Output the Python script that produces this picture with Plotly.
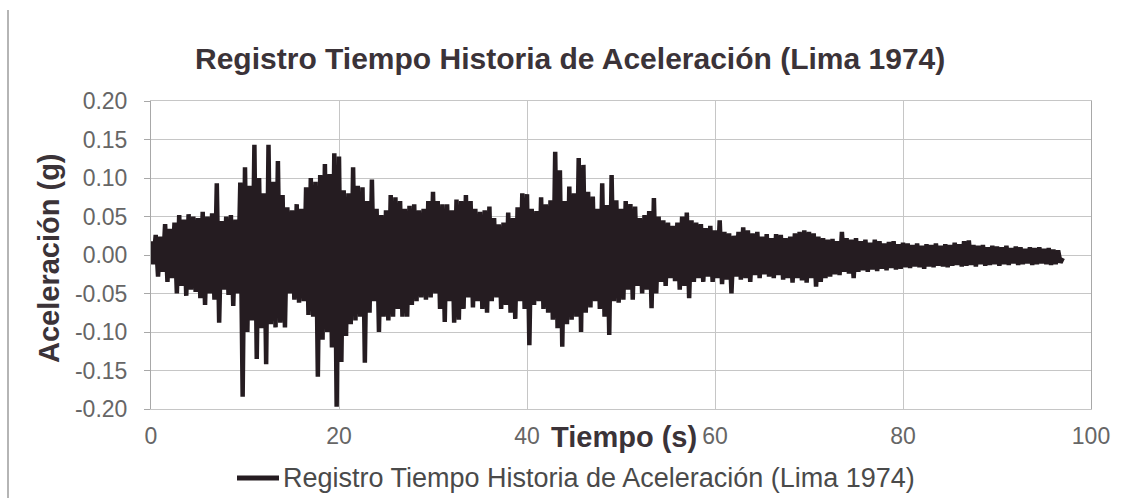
import plotly.graph_objects as go

# Sampling interval between successive peaks (s)
DT = 0.25

# Positive peaks read from the record (g), one every 0.5 s starting at t = 0.0 s
upper_peaks = [
    0.018, 0.026, 0.024, 0.040, 0.034, 0.042, 0.052, 0.046, 0.053, 0.050,
    0.048, 0.056, 0.050, 0.054, 0.093, 0.044, 0.050, 0.052, 0.046, 0.094,
    0.114, 0.090, 0.143, 0.100, 0.080, 0.143, 0.095, 0.122, 0.078, 0.062,
    0.058, 0.066, 0.060, 0.088, 0.100, 0.095, 0.104, 0.118, 0.105, 0.132,
    0.128, 0.084, 0.080, 0.114, 0.090, 0.088, 0.070, 0.098, 0.060, 0.052,
    0.058, 0.078, 0.075, 0.070, 0.060, 0.064, 0.066, 0.058, 0.060, 0.070,
    0.082, 0.070, 0.066, 0.066, 0.058, 0.072, 0.070, 0.078, 0.070, 0.060,
    0.056, 0.058, 0.063, 0.048, 0.040, 0.042, 0.055, 0.048, 0.062, 0.080,
    0.079, 0.060, 0.057, 0.075, 0.066, 0.071, 0.134, 0.110, 0.070, 0.089,
    0.080, 0.126, 0.117, 0.082, 0.076, 0.060, 0.093, 0.065, 0.104, 0.071,
    0.060, 0.070, 0.066, 0.063, 0.048, 0.052, 0.057, 0.074, 0.050, 0.045,
    0.042, 0.038, 0.042, 0.050, 0.055, 0.045, 0.042, 0.040, 0.035, 0.038,
    0.032, 0.045, 0.030, 0.028, 0.025, 0.030, 0.036, 0.032, 0.028, 0.030,
    0.024, 0.027, 0.022, 0.027, 0.026, 0.022, 0.024, 0.028, 0.030, 0.032,
    0.030, 0.028, 0.024, 0.022, 0.020, 0.021, 0.018, 0.030, 0.022, 0.020,
    0.022, 0.018, 0.020, 0.016, 0.020, 0.018, 0.015, 0.017, 0.018, 0.014,
    0.016, 0.015, 0.013, 0.015, 0.012, 0.014, 0.013, 0.015, 0.012, 0.014,
    0.013, 0.016, 0.014, 0.018, 0.019, 0.013, 0.012, 0.013, 0.010, 0.012,
    0.011, 0.010, 0.012, 0.009, 0.011, 0.010, 0.008, 0.010, 0.009, 0.010,
    0.008, 0.009, 0.007, 0.006, -0.004,
]

# Negative peaks read from the record (g), one every 0.5 s starting at t = 0.25 s
lower_peaks = [
    -0.012, -0.028, -0.022, -0.035, -0.030, -0.050, -0.040, -0.053, -0.045, -0.048,
    -0.056, -0.065, -0.050, -0.058, -0.088, -0.045, -0.052, -0.066, -0.050, -0.184,
    -0.100, -0.085, -0.135, -0.095, -0.142, -0.090, -0.094, -0.088, -0.094, -0.050,
    -0.058, -0.062, -0.060, -0.078, -0.080, -0.158, -0.110, -0.100, -0.120, -0.197,
    -0.139, -0.105, -0.090, -0.085, -0.080, -0.140, -0.075, -0.060, -0.100, -0.080,
    -0.085, -0.080, -0.070, -0.080, -0.080, -0.065, -0.060, -0.055, -0.058, -0.055,
    -0.050, -0.070, -0.087, -0.060, -0.088, -0.084, -0.070, -0.055, -0.068, -0.060,
    -0.070, -0.075, -0.060, -0.055, -0.070, -0.065, -0.075, -0.083, -0.060, -0.070,
    -0.117, -0.065, -0.060, -0.070, -0.075, -0.084, -0.095, -0.119, -0.090, -0.084,
    -0.080, -0.100, -0.075, -0.068, -0.060, -0.070, -0.080, -0.104, -0.060, -0.062,
    -0.058, -0.045, -0.058, -0.040, -0.050, -0.045, -0.069, -0.050, -0.035, -0.040,
    -0.030, -0.034, -0.045, -0.040, -0.056, -0.035, -0.030, -0.035, -0.028, -0.035,
    -0.030, -0.038, -0.032, -0.050, -0.028, -0.032, -0.030, -0.035, -0.026, -0.030,
    -0.025, -0.028, -0.030, -0.026, -0.032, -0.030, -0.036, -0.030, -0.033, -0.036,
    -0.030, -0.041, -0.035, -0.030, -0.028, -0.025, -0.026, -0.022, -0.024, -0.030,
    -0.022, -0.020, -0.022, -0.019, -0.021, -0.018, -0.020, -0.017, -0.019, -0.018,
    -0.016, -0.017, -0.015, -0.016, -0.018, -0.015, -0.016, -0.014, -0.015, -0.016,
    -0.014, -0.013, -0.015, -0.014, -0.013, -0.015, -0.012, -0.014, -0.013, -0.012,
    -0.014, -0.012, -0.013, -0.011, -0.013, -0.012, -0.011, -0.013, -0.012, -0.011,
    -0.012, -0.013, -0.012, -0.010,
]

x_ticks = [0, 20, 40, 60, 80, 100]
y_ticks = [-0.20, -0.15, -0.10, -0.05, 0.00, 0.05, 0.10, 0.15, 0.20]

title_text = "Registro Tiempo Historia de Aceleración (Lima 1974)"
series_name = "Registro Tiempo Historia de Aceleración (Lima 1974)"
x_title = "Tiempo (s)"
y_title = "Aceleración (g)"

# Interleave the positive and negative peaks into one record
accel = []
for i in range(len(upper_peaks)):
    accel.append(upper_peaks[i])
    if i < len(lower_peaks):
        accel.append(lower_peaks[i])
time = [i * DT for i in range(len(accel))]

LINE_COLOR = "#251c21"
TEXT_DARK = "#3b3338"
TICK_GRAY = "#666666"
GRID = "#c6c6c6"
FONT = "Liberation Sans, Arial, sans-serif"

# plot-area geometry in pixels (used only for placing layout elements)
W, H = 1129, 498
L, R, T, B = 151, 38, 101, 89
PW, PH = W - L - R, H - T - B


def px_x(x):
    return (x - L) / PW


def px_y(y):
    return (H - B - y) / PH


fig = go.Figure()
fig.add_trace(go.Scatter(
    x=time, y=accel, mode="lines", name=series_name,
    line=dict(color=LINE_COLOR, width=4.5), showlegend=False,
))

fig.update_layout(
    width=W, height=H,
    margin=dict(l=L, r=R, t=T, b=B, autoexpand=False),
    paper_bgcolor="white", plot_bgcolor="white",
    font=dict(family=FONT, color=TICK_GRAY),
    title=dict(text="<b>" + title_text + "</b>", x=0.505, xanchor="center",
               y=1 - 58 / H, yanchor="middle",
               font=dict(size=30, color=TEXT_DARK, family=FONT)),
    showlegend=False,
    xaxis=dict(range=[0, 100], tickvals=x_ticks, ticktext=[str(v) for v in x_ticks],
               showgrid=True, gridcolor=GRID, gridwidth=1, zeroline=False, automargin=False,
               showline=True, linecolor=GRID, mirror=True, ticks="",
               tickfont=dict(size=23, color=TICK_GRAY, family=FONT), ticklabelstandoff=6),
    yaxis=dict(range=[-0.2, 0.2], tickvals=y_ticks, ticktext=[f"{v:.2f}" for v in y_ticks],
               showgrid=True, gridcolor=GRID, gridwidth=1, zeroline=False, automargin=False,
               showline=True, linecolor="#a8a8a8", mirror=True, ticks="outside", ticklen=6,
               tickcolor="#a8a8a8", ticklabelstandoff=12,
               tickfont=dict(size=23, color=TICK_GRAY, family=FONT)),
)

# y-axis title
fig.add_annotation(text="<b>" + y_title + "</b>", xref="paper", yref="paper",
                   x=px_x(49), y=px_y(258), xanchor="center", yanchor="middle", textangle=-90,
                   showarrow=False, font=dict(size=29, color=TEXT_DARK, family=FONT))

# x-axis title sits on the tick-label row, between 40 and 60
fig.add_annotation(text="<b>" + x_title + "</b>", xref="paper", yref="paper",
                   x=px_x(624), y=px_y(437), xanchor="center", yanchor="middle",
                   showarrow=False, font=dict(size=29, color=TEXT_DARK, family=FONT))

# legend: line sample + series name
fig.add_shape(type="line", xref="paper", yref="paper",
              x0=px_x(237), x1=px_x(279), y0=px_y(478), y1=px_y(478),
              line=dict(color=LINE_COLOR, width=5))
fig.add_annotation(text=series_name, xref="paper", yref="paper",
                   x=px_x(281), y=px_y(478), xanchor="left", yanchor="middle",
                   showarrow=False, font=dict(size=27, color="#4a4a4a", family=FONT))

# left border of the scanned chart frame
fig.add_shape(type="line", xref="paper", yref="paper",
              x0=px_x(8), x1=px_x(8), y0=px_y(10), y1=px_y(498),
              line=dict(color="#b5b5b5", width=2))

fig.write_html("out.html")
